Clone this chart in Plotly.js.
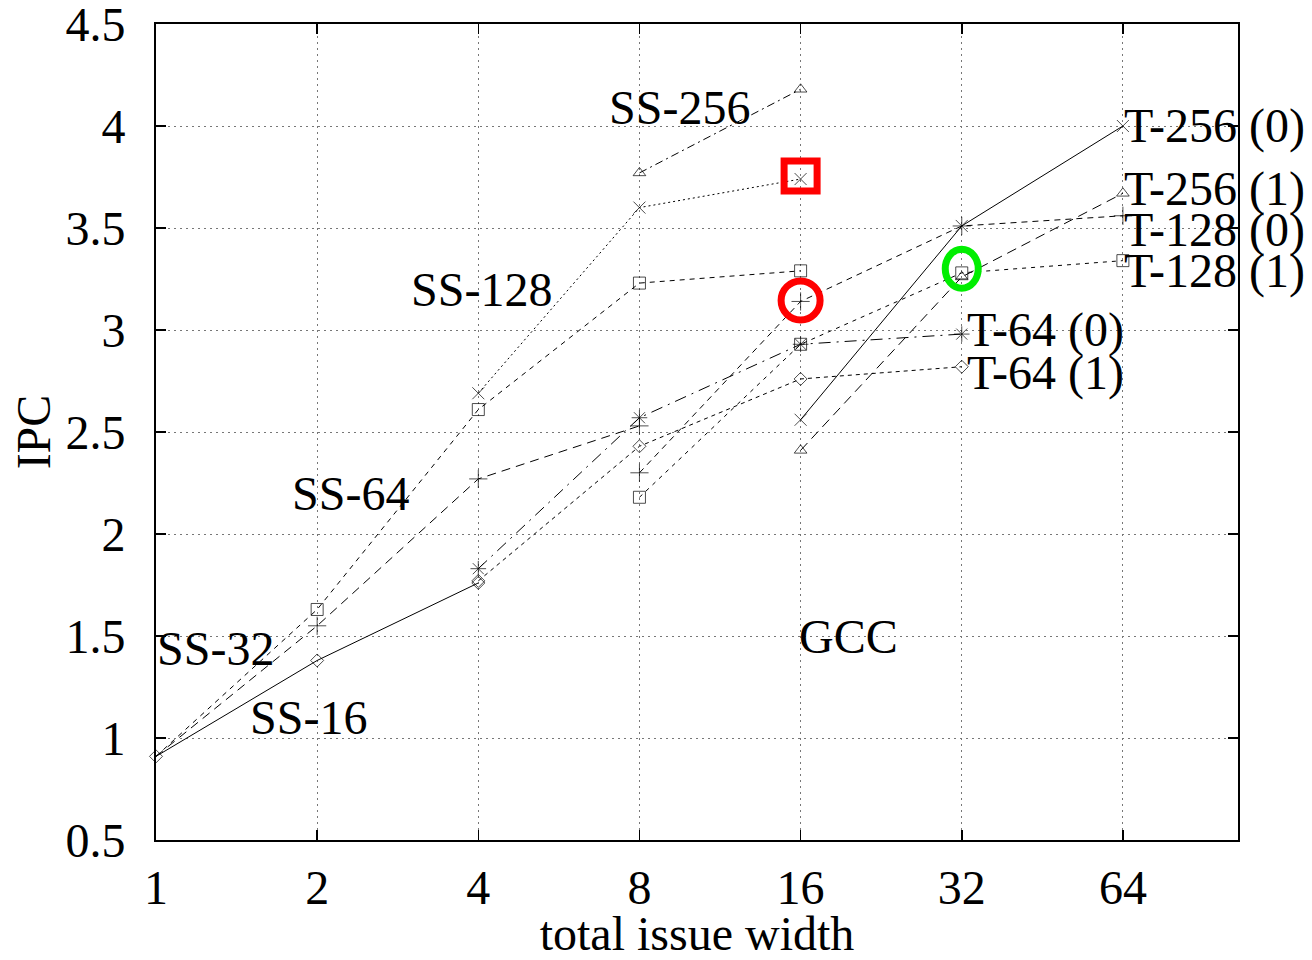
<!DOCTYPE html>
<html>
<head>
<meta charset="utf-8">
<script src="https://cdn.plot.ly/plotly-3.0.1.min.js"></script>
<style>html,body{margin:0;padding:0;background:#fff;}#chart{width:1312px;height:960px;}</style>
</head>
<body>
<div id="chart"></div>
<script>
// ---- data ----
const xTickVals = [1, 2, 4, 8, 16, 32, 64];
const xTickText = ['1', '2', '4', '8', '16', '32', '64'];
const yTickVals = [0.5, 1, 1.5, 2, 2.5, 3, 3.5, 4, 4.5];
const yTickText = ['0.5', '1', '1.5', '2', '2.5', '3', '3.5', '4', '4.5'];

const xSS16 = [1, 2, 4];
const ySS16 = [0.91, 1.38, 1.76];
const xSS32 = [1, 2, 4, 8];
const ySS32 = [0.91, 1.55, 2.27, 2.53];
const xSS64 = [1, 2, 4, 8, 16];
const ySS64 = [0.91, 1.63, 2.61, 3.23, 3.29];
const xSS128 = [4, 8, 16];
const ySS128 = [2.69, 3.60, 3.74];
const xSS256 = [8, 16];
const ySS256 = [3.77, 4.18];

const xT64 = [4, 8, 16, 32];
const yT64_0 = [1.83, 2.57, 2.93, 2.98];
const yT64_1 = [1.77, 2.43, 2.76, 2.82];
const xT128 = [8, 16, 32, 64];
const yT128_0 = [2.30, 3.14, 3.51, 3.56];
const yT128_1 = [2.18, 2.93, 3.28, 3.34];
const xT256 = [16, 32, 64];
const yT256_0 = [2.56, 3.51, 4.00];
const yT256_1 = [2.41, 3.26, 3.67];

// curve labels
const labelText = ['SS-256', 'SS-128', 'SS-64', 'SS-32', 'SS-16', 'GCC',
  'T-256 (0)', 'T-256 (1)', 'T-128 (0)', 'T-128 (1)', 'T-64 (0)', 'T-64 (1)'];
const labelX = [9.5, 4.05, 2.31, 1.29, 1.93, 19.7, 64, 64, 64, 64, 32.6, 32.6];
const labelY = [4.09, 3.20, 2.20, 1.44, 1.10, 1.50, 4.00, 3.69, 3.49, 3.29, 3.00, 2.79];
const labelAnchor = ['center', 'center', 'center', 'center', 'center', 'center',
  'left', 'left', 'left', 'left', 'left', 'left'];

// highlighted points
const hlX = [16, 16, 32];
const hlY = [3.755, 3.145, 3.30];
const hlKind = ['rect', 'circle', 'circle'];
const hlColor = ['#ff0000', '#ff0000', '#00ee00'];

// ---- styling ----
const FONT = '"Liberation Serif", "Times New Roman", Times, serif';
const FS = 48;
const X_MAX = 105;
function tr(x, y, name, symbol, size, dash, hideFirst) {
  const sizes = x.map((v, i) => (hideFirst && i === 0) ? 0 : size);
  return {
    x: x, y: y, name: name, type: 'scatter', mode: 'lines+markers',
    line: {color: '#000', width: 1, dash: dash},
    marker: {symbol: symbol, size: sizes, color: '#000', line: {color: '#000', width: 1}},
    cliponaxis: false
  };
}
const data = [
  tr(xSS16, ySS16, 'SS-16', 'diamond-open', 10, 'solid'),
  tr(xSS32, ySS32, 'SS-32', 'cross-thin-open', 13, '9px,6px', true),
  tr(xSS64, ySS64, 'SS-64', 'square-open', 12, '5px,5px', true),
  tr(xSS128, ySS128, 'SS-128', 'x-thin-open', 12, '2px,3px'),
  tr(xSS256, ySS256, 'SS-256', 'triangle-up-open', 11, '8px,4px,2px,4px'),
  tr(xT64, yT64_0, 'T-64 (0)', 'asterisk-open', 13, '12px,6px,2px,6px'),
  tr(xT64, yT64_1, 'T-64 (1)', 'diamond-open', 10, '4px,4px'),
  tr(xT128, yT128_0, 'T-128 (0)', 'cross-thin-open', 13, '6px,5px'),
  tr(xT128, yT128_1, 'T-128 (1)', 'square-open', 12, '4px,5px'),
  tr(xT256, yT256_0, 'T-256 (0)', 'x-thin-open', 12, 'solid'),
  tr(xT256, yT256_1, 'T-256 (1)', 'triangle-up-open', 11, '10px,6px')
];

const annotations = labelText.map((t, i) => ({
  text: t, x: Math.log10(labelX[i]), y: labelY[i], xref: 'x', yref: 'y',
  showarrow: false, xanchor: labelAnchor[i], yanchor: 'middle', borderpad: 0,
  font: {family: FONT, size: FS, color: '#000'}
}));

const shapes = hlX.map((xv, i) => {
  const isRect = hlKind[i] === 'rect';
  const rx = isRect ? 16.5 : (i === 2 ? 16.5 : 19.5);
  const ry = isRect ? 15 : 19.5;
  return {
    type: hlKind[i], xref: 'paper', yref: 'y', xsizemode: 'pixel', ysizemode: 'pixel',
    xanchor: Math.log10(xv) / Math.log10(X_MAX), yanchor: hlY[i],
    x0: -rx, x1: rx, y0: -ry, y1: ry,
    line: {color: hlColor[i], width: 7}
  };
});

const axisCommon = {
  showline: true, linecolor: '#000', linewidth: 2, mirror: 'ticks',
  ticks: 'inside', ticklen: 10, tickwidth: 1.5, tickcolor: '#000',
  showgrid: true, gridcolor: '#777', gridwidth: 1, griddash: '2px,4px',
  zeroline: false, tickfont: {family: FONT, size: FS, color: '#000'},
  automargin: false, ticklabeloverflow: 'allow'
};

const layout = {
  width: 1312, height: 960,
  margin: {l: 156, r: 74, t: 24, b: 120},
  paper_bgcolor: '#fff', plot_bgcolor: '#fff',
  showlegend: false,
  font: {family: FONT, color: '#000', size: FS},
  xaxis: Object.assign({}, axisCommon, {
    type: 'log', range: [0, Math.log10(X_MAX)],
    tickvals: xTickVals, ticktext: xTickText, ticklabelstandoff: 4,
    title: {text: 'total issue width', font: {family: FONT, size: FS, color: '#000'}, standoff: 10}
  }),
  yaxis: Object.assign({}, axisCommon, {
    range: [0.5, 4.5], tickvals: yTickVals, ticktext: yTickText, ticklabelstandoff: 19,
    title: {text: 'IPC', font: {family: FONT, size: FS, color: '#000'}, standoff: 0}
  }),
  annotations: annotations,
  shapes: shapes
};

Plotly.newPlot('chart', data, layout, {staticPlot: true, displayModeBar: false});
</script>
</body>
</html>
